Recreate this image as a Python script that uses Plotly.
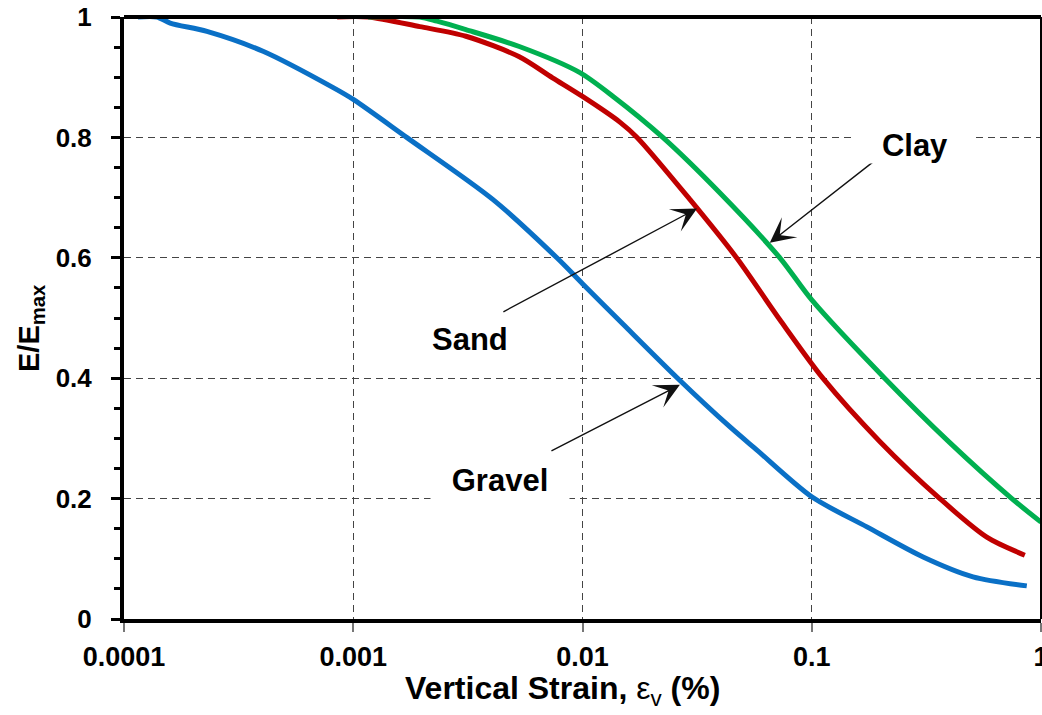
import math
import plotly.graph_objects as go

# ---- data ----
gravel_x = [0.000115, 0.000139, 0.000159, 0.00023, 0.000404, 0.000814, 0.001, 0.00171,
            0.00406, 0.00773, 0.01, 0.015, 0.026, 0.044, 0.0575, 0.1,
            0.174, 0.306, 0.505, 0.867]
gravel_y = [1.0, 1.0, 0.99, 0.976, 0.943, 0.883, 0.863, 0.8,
            0.697, 0.6, 0.557, 0.49, 0.4, 0.319, 0.281, 0.203,
            0.153, 0.103, 0.07, 0.055]

sand_x = [0.00085, 0.00116, 0.00195, 0.0031, 0.0053, 0.0074, 0.01, 0.0146, 0.0173,
          0.0294, 0.047, 0.0726, 0.1118, 0.198, 0.362, 0.58, 0.85]
sand_y = [1.0, 1.0, 0.984, 0.968, 0.934, 0.899, 0.868, 0.825, 0.8,
          0.697, 0.6, 0.497, 0.4, 0.295, 0.2, 0.136, 0.106]

clay_x = [0.00116, 0.00195, 0.00232, 0.0031, 0.0053, 0.0097, 0.0136, 0.0224, 0.0397,
          0.0726, 0.1, 0.208, 0.4, 0.746, 1.0]
clay_y = [1.0, 1.0, 0.993, 0.979, 0.951, 0.908, 0.868, 0.8, 0.708,
          0.6, 0.53, 0.4, 0.293, 0.2, 0.161]

x_ticks = [0.0001, 0.001, 0.01, 0.1, 1]
x_ticktext = ["0.0001", "0.001", "0.01", "0.1", "1"]
y_ticks = [0, 0.2, 0.4, 0.6, 0.8, 1]
y_ticktext = ["0", "0.2", "0.4", "0.6", "0.8", "1"]

# label text and its position (strain, E/Emax)
label_text = ["Clay", "Sand", "Gravel"]
label_x = [0.282, 0.00323, 0.00437]
label_y = [0.788, 0.464, 0.231]
# arrows: tail and head (strain, E/Emax)
arrow_tail_x = [0.198, 0.00445, 0.00721]
arrow_tail_y = [0.768, 0.509, 0.278]
arrow_head_x = [0.0656, 0.0316, 0.0266]
arrow_head_y = [0.625, 0.682, 0.389]

FONT = "Liberation Sans, Arial, sans-serif"
SMOOTH = 0.8

fig = go.Figure()
fig.add_trace(go.Scatter(x=gravel_x, y=gravel_y, mode="lines", name="Gravel",
                         line=dict(color="#0A70C6", width=5, shape="spline", smoothing=SMOOTH)))
fig.add_trace(go.Scatter(x=sand_x, y=sand_y, mode="lines", name="Sand",
                         line=dict(color="#C00000", width=5, shape="spline", smoothing=SMOOTH)))
fig.add_trace(go.Scatter(x=clay_x, y=clay_y, mode="lines", name="Clay",
                         line=dict(color="#00B050", width=5, shape="spline", smoothing=SMOOTH)))

annotations = []
for i in range(len(label_text)):
    annotations.append(dict(
        x=math.log10(arrow_head_x[i]), y=arrow_head_y[i], xref="x", yref="y",
        ax=math.log10(arrow_tail_x[i]), ay=arrow_tail_y[i], axref="x", ayref="y",
        text="", showarrow=True, arrowhead=3, arrowsize=3.0, arrowwidth=1.4,
        arrowcolor="#111"))
box_w = {"Clay": 120, "Sand": None, "Gravel": 138}
box_h = {"Clay": 36, "Sand": None, "Gravel": 44}
for i, t in enumerate(label_text):
    a = dict(
        x=math.log10(label_x[i]), y=label_y[i], xref="x", yref="y", text=t,
        showarrow=False,
        font=dict(family=FONT, size=31, color="black", weight="bold"))
    if box_w[t]:
        a.update(bgcolor="white", width=box_w[t], height=box_h[t], borderpad=0)
    annotations.append(a)

# axis titles placed as annotations
annotations.append(dict(
    x=(562 - 124) / 917, y=(619 - 690) / 602, xref="paper", yref="paper",
    xanchor="center", yanchor="middle", showarrow=False,
    text="<b>Vertical Strain, </b>ε<sub>v</sub><b> (%)</b>",
    font=dict(family=FONT, size=32, color="black")))
annotations.append(dict(
    x=(31 - 124) / 917, y=(619 - 328) / 602, xref="paper", yref="paper",
    xanchor="center", yanchor="middle", showarrow=False, textangle=-90,
    text="<b>E/E<sub>max</sub></b>",
    font=dict(family=FONT, size=29, color="black")))

fig.update_layout(
    width=1042, height=715,
    margin=dict(l=124, r=1, t=17, b=96, autoexpand=False),
    paper_bgcolor="white", plot_bgcolor="white",
    showlegend=False,
    font=dict(family=FONT, color="black"),
    annotations=annotations,
    shapes=[
        dict(type="line", xref="paper", yref="paper", x0=0, x1=1, y0=1, y1=1,
             line=dict(color="black", width=4)),
        dict(type="line", xref="paper", yref="paper", x0=1, x1=1, y0=0, y1=1,
             line=dict(color="black", width=2)),
    ],
)

fig.update_xaxes(
    type="log", range=[-4, 0], automargin=False,
    tickvals=x_ticks, ticktext=x_ticktext,
    showline=True, linecolor="black", linewidth=4,
    ticks="outside", ticklen=9, tickwidth=1.5, tickcolor="#777",
    tickfont=dict(family=FONT, size=27, color="black", weight="bold"),
    ticklabelstandoff=2, ticklabeloverflow="allow",
    showgrid=True, gridcolor="#444", gridwidth=1.4, griddash="7px,5px",
    zeroline=False,
)
fig.update_yaxes(
    range=[0, 1], automargin=False,
    tickvals=y_ticks, ticktext=y_ticktext,
    showline=True, linecolor="black", linewidth=4,
    ticks="outside", ticklen=9, tickwidth=3, tickcolor="black",
    minor=dict(dtick=0.05, tick0=0, ticks="outside", ticklen=6, tickwidth=3,
               tickcolor="black", showgrid=False),
    tickfont=dict(family=FONT, size=26, color="black", weight="bold"),
    ticklabelstandoff=14,
    showgrid=True, gridcolor="#444", gridwidth=1.4, griddash="7px,5px",
    zeroline=False,
)

fig.write_html("out.html")
